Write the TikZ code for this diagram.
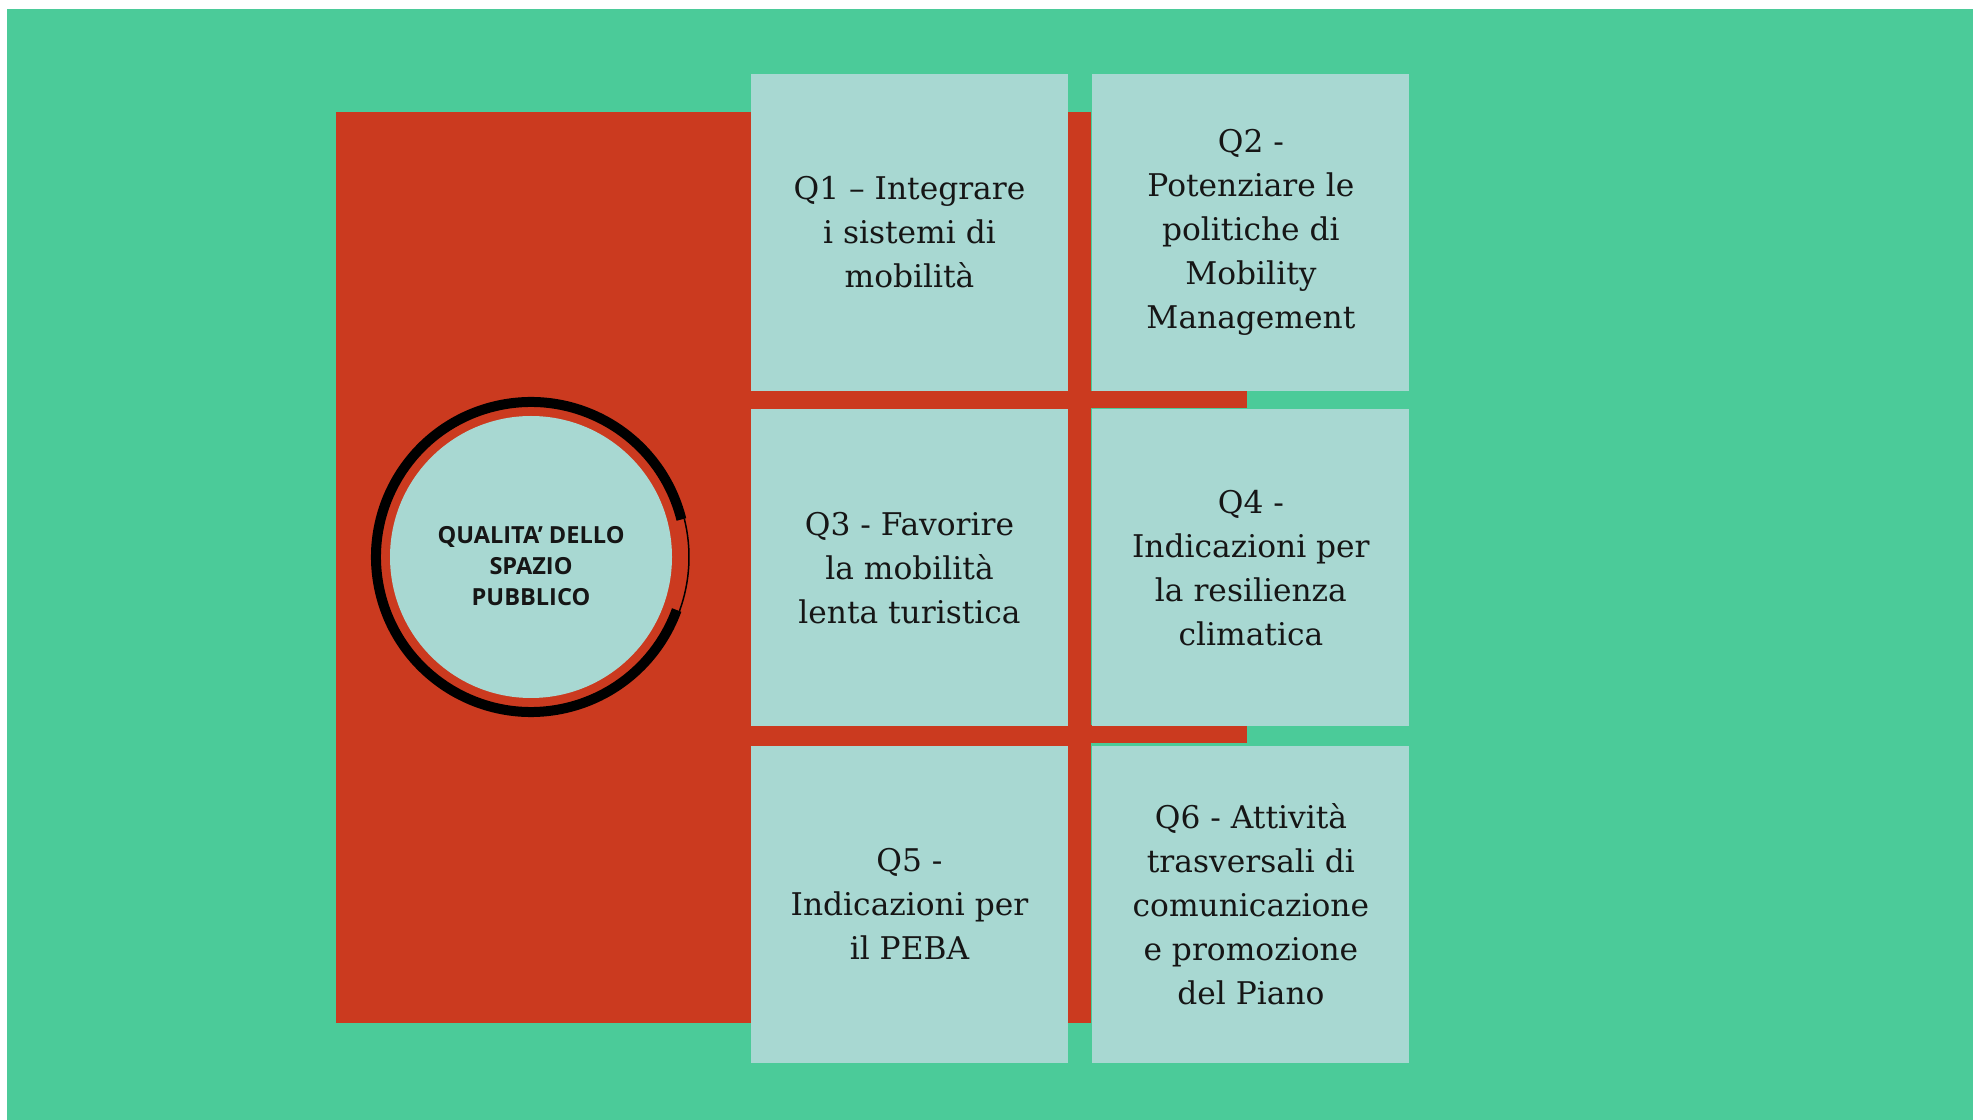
\documentclass[tikz,border=0pt]{standalone}
\usepackage{fontspec}
\usepackage{tikz}
\usetikzlibrary{positioning}
\usepackage{xcolor}
\setmainfont{DejaVu Serif}
\newfontfamily\hubfont{Open Sans}
\definecolor{lawn}{RGB}{75,203,153}
\definecolor{brick}{RGB}{203,58,31}
\definecolor{paleteal}{RGB}{168,216,210}
\definecolor{ink}{RGB}{22,22,22}

\tikzset{
  goalbox/.style={rectangle,fill=paleteal,text=ink,inner sep=0pt,
    minimum width=31.7mm,minimum height=31.7mm,align=center,
    font=\fontsize{8.9}{12.5}\selectfont},
  hub/.style={circle,fill=paleteal,inner sep=0pt,minimum size=28.2mm},
  hubtext/.style={text=ink,inner sep=0pt,align=center,
    font=\hubfont\bfseries\fontsize{6.7}{8.9}\selectfont},
  ringthick/.style={line width=1mm,black},
  ringthin/.style={line width=0.15mm,black}
}

\begin{document}
\begin{tikzpicture}[x=0.1mm,y=-0.1mm]
\useasboundingbox (0,0) rectangle (1973,1120);
\fill[white] (0,0) rectangle (1973,1120);
\fill[lawn] (7,9) rectangle (1973,1120);
% red backing and bars
\fill[brick] (336,112) rectangle (1091,1023);
\fill[brick] (1091,391) rectangle (1247,408);
\fill[brick] (1091,725) rectangle (1247,743);

\node[goalbox] (q1) at (909.5,232.5) {Q1 – Integrare\\i sistemi di\\mobilità};
\node[goalbox,right=2.3mm of q1] (q2) {Q2 -\\Potenziare le\\politiche di\\Mobility\\Management};
\node[goalbox,below=1.7mm of q1] (q3) {Q3 - Favorire\\la mobilità\\lenta turistica};
\node[goalbox,right=2.3mm of q3] (q4) {Q4 -\\Indicazioni per\\la resilienza\\climatica};
\node[goalbox,below=1.8mm of q3] (q5) {Q5 -\\Indicazioni per\\il PEBA};
\node[goalbox,right=2.3mm of q5] (q6) {Q6 - Attività\\trasversali di\\comunicazione\\e promozione\\del Piano};

% hub with open ring
\node[hub] (hub) at (531,557) {};
\node[hubtext] (hubtext) at ([yshift=-0.9mm]hub.center) {QUALITA’ DELLO\\SPAZIO\\PUBBLICO};
\draw[ringthick] (hub.center) ++(14:15.5mm) arc[start angle=14,end angle=340,radius=15.5mm];
\draw[ringthin] (hub.center) ++(-20:15.8mm) arc[start angle=-20,end angle=14,radius=15.8mm];
\end{tikzpicture}
\end{document}
